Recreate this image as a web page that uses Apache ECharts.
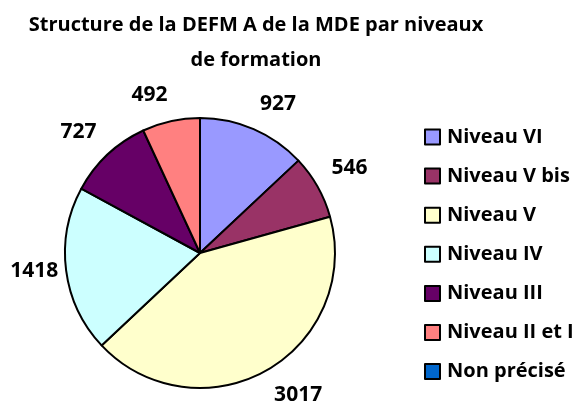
<!DOCTYPE html>
<html><head><meta charset="utf-8">
<script src="https://cdn.jsdelivr.net/npm/echarts@6/dist/echarts.min.js"></script>
<style>html,body{margin:0;padding:0;background:#fff}#c{width:577px;height:406px}</style>
</head><body><div id="c"></div>
<script>
const categories = ['Niveau VI','Niveau V bis','Niveau V','Niveau IV','Niveau III','Niveau II et I','Non précisé'];
const values = [927, 546, 3017, 1418, 727, 492, 0];
const colors = ['#9999FF','#993366','#FFFFCC','#CCFFFF','#660066','#FF8080','#0066CC'];
const titleText = 'Structure de la DEFM A de la MDE par niveaux\nde formation';

const FONT = 'Open Sans';
const CX = 200, CY = 253, R = 135, LABEL_R = 151, SIDE_LABEL_R = 143;
const total = values.reduce((a,b)=>a+b,0);
function midAngle(i){
  let before = 0; for (let k=0;k<i;k++) before += values[k];
  return (before + values[i]/2) / total * 2 * Math.PI;
}
const chart = echarts.init(document.getElementById('c'), null, {renderer:'canvas'});
const data = categories.map((n,i)=>({name:n, value:values[i], itemStyle:{color:colors[i]}}));
chart.setOption({
  animation:false,
  title:{text:titleText, left:251, top:3, textAlign:'center',
    textStyle:{fontFamily:FONT, fontWeight:'bold', fontSize:20, lineHeight:35, color:'#000'}},
  legend:{orient:'vertical', left:419, top:122, itemWidth:15, itemHeight:15, itemGap:19.1,
    data:categories, icon:'rect', selectedMode:false,
    itemStyle:{borderColor:'#000', borderWidth:2},
    textStyle:{fontFamily:FONT, fontWeight:'bold', fontSize:20, lineHeight:20, color:'#000', padding:[0,0,0,2]}},
  series:[
    {type:'pie', center:[CX,CY], radius:[0,R], startAngle:90, clockwise:true,
     avoidLabelOverlap:false,
     data:data, itemStyle:{borderColor:'#000', borderWidth:2}, emphasis:{disabled:true},
     label:{show:true, position:'outside', overflow:'none', fontFamily:FONT, fontWeight:'bold', fontSize:21, color:'#000',
       formatter:p=>p.value?String(p.value):''},
     labelLine:{show:false},
     labelLayout:function(params){
       const a = midAngle(params.dataIndex);
       const s = Math.sin(a), c = Math.cos(a);
       const side = Math.abs(c) < 0.2;
       const r = side ? SIDE_LABEL_R : LABEL_R;
       const x = CX + r*s, y = CY - r*c;
       return {x:x, y:y, align: s>=0?'left':'right', hideOverlap:false,
         verticalAlign: side ? 'middle' : (c>0?'bottom':'top')};
     }}
  ]
});
</script></body></html>
